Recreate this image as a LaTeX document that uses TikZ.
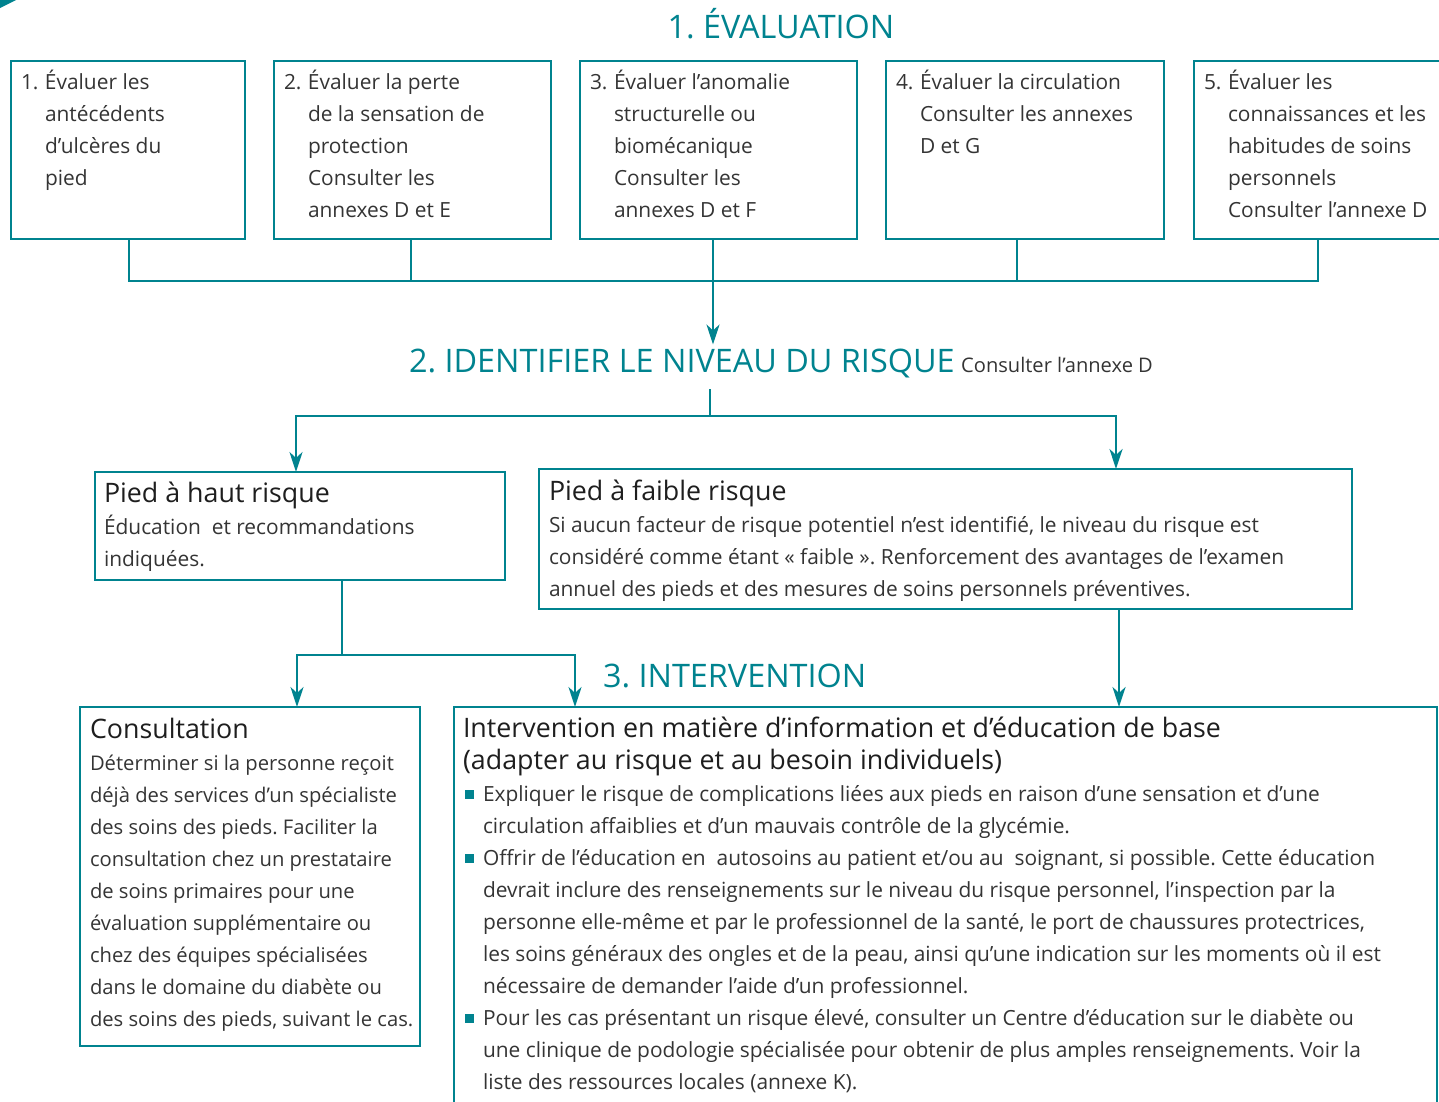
\documentclass[tikz,border=0pt]{standalone}
\usepackage{fontspec}
\setmainfont{Open Sans}
\usetikzlibrary{arrows.meta,calc}
\definecolor{mainteal}{RGB}{0,131,143}
\definecolor{txtgray}{RGB}{52,52,52}
\definecolor{headgray}{RGB}{30,30,30}
\newcommand{\bodyf}{\fontsize{20.9}{32}\selectfont}
\newcommand{\consf}{\fontsize{20.2}{32}\selectfont}
\newcommand{\headf}{\fontsize{26.8}{32}\selectfont}
\newcommand{\titlef}{\fontsize{32.4}{36}\selectfont}
\newcommand{\smallf}{\fontsize{20.1}{32}\selectfont}
\newcommand{\numi}[1]{\makebox[24pt][l]{#1}}
\newcommand{\indi}{\hspace*{24pt}}
\newcommand{\bul}{\makebox[18pt][l]{\textcolor{mainteal}{\rule[2pt]{9pt}{9pt}}}}
\newcommand{\bind}{\hspace*{18pt}}
\frenchspacing
\tikzset{
  boxnode/.style={draw=mainteal, line width=2.6pt, rectangle, inner sep=0pt, outer sep=0pt, anchor=north west},
  txt/.style={inner sep=0pt, outer sep=0pt, anchor=north west, align=left, font=\bodyf, text=txtgray},
  headtxt/.style={inner sep=0pt, outer sep=0pt, anchor=base west, font=\headf, text=headgray},
  titletxt/.style={inner sep=0pt, outer sep=0pt, font=\titlef, text=mainteal},
  conn/.style={draw=mainteal, line width=2.6pt},
  tip/.style={-{Stealth[length=20pt,width=13pt,inset=6pt]}}
}
\begin{document}
\begin{tikzpicture}[x=1pt,y=-1pt]
\useasboundingbox (0,0) rectangle (1439,1101);
\clip (0,0) rectangle (1439,1101);
\fill[mainteal] (0,0) -- (16,0) -- (0,8) -- cycle;

% titles
\node[titletxt, anchor=base] (title1) at (781,38) {1. ÉVALUATION};
\node[titletxt, anchor=base west] (title2) at (409,372) {2. IDENTIFIER LE NIVEAU DU RISQUE};
\node[inner sep=0pt, anchor=base west, font=\smallf, text=txtgray] (title2b) at (961,372) {Consulter l’annexe D};
\node[titletxt, anchor=base west] (title3) at (603,687) {3. INTERVENTION};

% row 1 boxes
\node[boxnode, minimum width=234pt, minimum height=178pt] (b1) at (11,61) {};
\node[boxnode, minimum width=277pt, minimum height=178pt] (b2) at (274,61) {};
\node[boxnode, minimum width=277pt, minimum height=178pt] (b3) at (580,61) {};
\node[boxnode, minimum width=278pt, minimum height=178pt] (b4) at (886,61) {};
\node[boxnode, minimum width=280pt, minimum height=178pt] (b5) at (1194,61) {};

\node[txt] (t1) at (21,66.6) {\strut\numi{1.}Évaluer les\\\indi antécédents\\\indi d’ulcères du\\\indi pied};
\node[txt] (t2) at (284,66.6) {\strut\numi{2.}Évaluer la perte\\\indi de la sensation de\\\indi protection\\\indi Consulter les\\\indi annexes D et E};
\node[txt] (t3) at (590,66.6) {\strut\numi{3.}Évaluer l’anomalie\\\indi structurelle ou\\\indi biomécanique\\\indi Consulter les\\\indi annexes D et F};
\node[txt] (t4) at (896,66.6) {\strut\numi{4.}Évaluer la circulation\\\indi Consulter les annexes\\\indi D et G};
\node[txt] (t5) at (1204,66.6) {\strut\numi{5.}Évaluer les\\\indi connaissances et les\\\indi habitudes de soins\\\indi personnels\\\indi Consulter l’annexe D};

% row 2 boxes
\node[boxnode, minimum width=410pt, minimum height=108pt] (haut) at (95,472) {};
\node[boxnode, minimum width=813pt, minimum height=140pt] (faible) at (539,469) {};
\node[headtxt] (hh) at (104,502) {Pied à haut risque};
\node[txt] (hb) at (104,511.6) {\strut Éducation\ \ et recommandations\\indiquées.};
\node[headtxt] (fh) at (549,500) {Pied à faible risque};
\node[txt] (fb) at (549,509.6) {\strut Si aucun facteur de risque potentiel n’est identifié, le niveau du risque est\\considéré comme étant «~faible~». Renforcement des avantages de l’examen\\annuel des pieds et des mesures de soins personnels préventives.};

% row 3 boxes
\node[boxnode, minimum width=340pt, minimum height=339pt] (cons) at (80,707) {};
\node[boxnode, minimum width=983pt, minimum height=420pt] (interv) at (454,707) {};
\node[headtxt] (ch) at (90,738) {Consultation};
\node[txt, font=\consf] (cb) at (90,747.6) {\strut Déterminer si la personne reçoit\\déjà des services d’un spécialiste\\des soins des pieds. Faciliter la\\consultation chez un prestataire\\de soins primaires pour une\\évaluation supplémentaire ou\\chez des équipes spécialisées\\dans le domaine du diabète ou\\des soins des pieds, suivant le cas.};
\node[txt, font=\headf, text=headgray] (ih) at (463,714.6) {\strut Intervention en matière d’information et d’éducation de base\\(adapter au risque et au besoin individuels)};
\node[txt] (ib) at (465,778.6) {\strut\bul Expliquer le risque de complications liées aux pieds en raison d’une sensation et d’une\\
\bind circulation affaiblies et d’un mauvais contrôle de la glycémie.\\
\bul Offrir de l’éducation en\ \ autosoins au patient et/ou au\ \ soignant, si possible. Cette éducation\\
\bind devrait inclure des renseignements sur le niveau du risque personnel, l’inspection par la\\
\bind personne elle-même et par le professionnel de la santé, le port de chaussures protectrices,\\
\bind les soins généraux des ongles et de la peau, ainsi qu’une indication sur les moments où il est\\
\bind nécessaire de demander l’aide d’un professionnel.\\
\bul Pour les cas présentant un risque élevé, consulter un Centre d’éducation sur le diabète ou\\
\bind une clinique de podologie spécialisée pour obtenir de plus amples renseignements. Voir la\\
\bind liste des ressources locales (annexe K).};

% connectors row 1 -> title 2
\coordinate (j1) at (129,281);
\coordinate (j2) at (411,281);
\coordinate (j3) at (713,281);
\coordinate (j4) at (1017,281);
\coordinate (j5) at (1318,281);
\draw[conn] (b1.south -| j1) -- (j1) -- (j5) -- (b5.south -| j5);
\draw[conn] (b2.south -| j2) -- (j2);
\draw[conn] (b3.south -| j3) -- (j3);
\draw[conn] (b4.south -| j4) -- (j4);
\draw[conn,tip] (j3) -- ([yshift=4pt]title2.north -| j3);

% title 2 -> row 2
\coordinate (k) at (710,416);
\coordinate (kL) at (296,416);
\coordinate (kR) at (1116,416);
\draw[conn] ([yshift=-17pt]title2.base -| k) -- (k);
\draw[conn,tip] (k) -- (kL) -- (haut.north -| kL);
\draw[conn,tip] (k) -- (kR) -- (faible.north -| kR);

% row 2 -> row 3
\coordinate (m) at (342,655);
\coordinate (mL) at (297,655);
\coordinate (mR) at (575,655);
\coordinate (fx) at (1119,655);
\draw[conn] (haut.south -| m) -- (m);
\draw[conn,tip] (m) -- (mL) -- (cons.north -| mL);
\draw[conn,tip] (m) -- (mR) -- (interv.north -| mR);
\draw[conn,tip] (faible.south -| fx) -- (interv.north -| fx);
\end{tikzpicture}
\end{document}
